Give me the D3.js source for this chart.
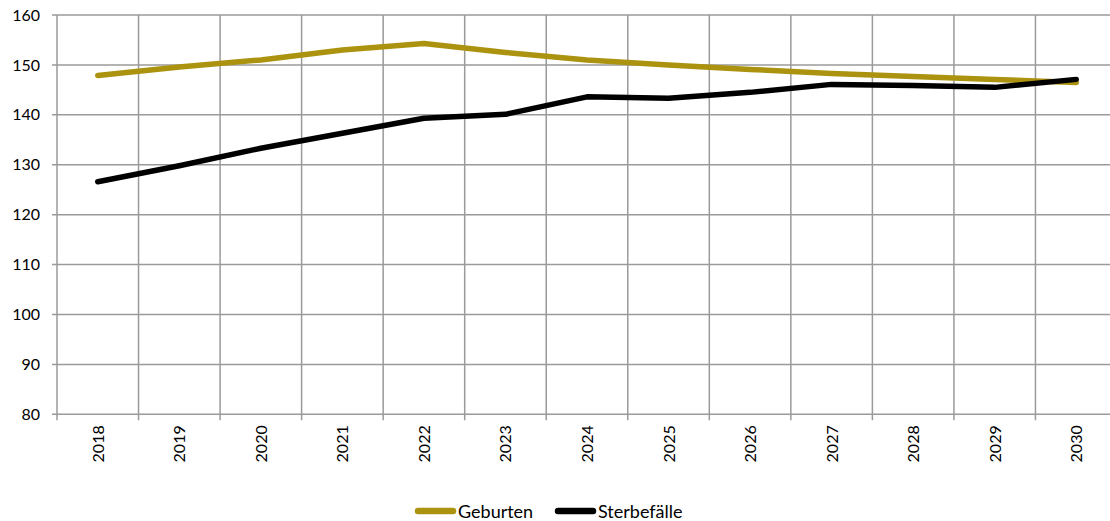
<!DOCTYPE html>
<html><head><meta charset="utf-8">
<script src="https://cdn.jsdelivr.net/npm/d3@7"></script>
<style>html,body{margin:0;padding:0;background:#fff;overflow:hidden}svg{display:block}</style>
</head><body><svg id="c" width="1110" height="521"></svg>
<script>
const years = ["2018","2019","2020","2021","2022","2023","2024","2025","2026","2027","2028","2029","2030"];
const geburten = [147.9,149.6,151.0,153.0,154.3,152.5,151.0,150.0,149.1,148.3,147.7,147.1,146.5];
const sterbefaelle = [126.6,129.8,133.3,136.3,139.3,140.1,143.6,143.3,144.5,146.1,145.9,145.5,147.1];
const yTicks = [80,90,100,110,120,130,140,150,160];
const seriesNames = ["Geburten","Sterbefälle"];
const colors = ["#ab930f","#000000"];

(function(){
const svg = d3.select("#c");
const font = "Lato, 'Open Sans', sans-serif";
const pL = 57, pR = 1117, pT = 15, pB = 414.3;
const x = d3.scaleBand().domain(years).range([pL, pR]);
const y = d3.scaleLinear().domain([80,160]).range([pB, pT]);

svg.append("g").selectAll("line").data(yTicks).join("line")
  .attr("x1", pL - 5).attr("x2", pR)
  .attr("y1", d => y(d)).attr("y2", d => y(d))
  .attr("stroke", "#9a9a9a").attr("stroke-width", 1.5);
const bounds = years.map(d => x(d)).concat([pR]);
svg.append("g").selectAll("line").data(bounds).join("line")
  .attr("x1", d => d).attr("x2", d => d)
  .attr("y1", pT).attr("y2", pB + 6)
  .attr("stroke", "#9a9a9a").attr("stroke-width", 1.5);

svg.append("g").selectAll("text").data(yTicks).join("text")
  .attr("x", 40).attr("y", d => y(d)).attr("dy", "0.35em")
  .attr("text-anchor", "end").attr("font-family", font).attr("font-size", 16).attr("fill", "#000")
  .text(d => d);
svg.append("g").selectAll("text").data(years).join("text")
  .attr("transform", d => `translate(${x(d) + x.bandwidth()/2 + 6},${pB + 11}) rotate(-90)`)
  .attr("text-anchor", "end").attr("font-family", font).attr("font-size", 16).attr("fill", "#000")
  .text(d => d);

const line = d3.line().x((d,i) => x(years[i]) + x.bandwidth()/2).y(d => y(d));
[geburten, sterbefaelle].forEach((s, k) => {
  svg.append("path").datum(s).attr("d", line)
    .attr("fill", "none").attr("stroke", colors[k]).attr("stroke-width", 5.5)
    .attr("stroke-linecap", "round").attr("stroke-linejoin", "round");
});

const leg = [{x0: 418, x1: 453, tx: 458}, {x0: 558, x1: 593, tx: 598}];
seriesNames.forEach((n, k) => {
  svg.append("line").attr("x1", leg[k].x0).attr("x2", leg[k].x1).attr("y1", 511).attr("y2", 511)
    .attr("stroke", colors[k]).attr("stroke-width", 6.5).attr("stroke-linecap", "round");
  svg.append("text").attr("x", leg[k].tx).attr("y", 518)
    .attr("font-family", font).attr("font-size", 18).attr("fill", "#000").text(n);
});
})();
</script></body></html>
